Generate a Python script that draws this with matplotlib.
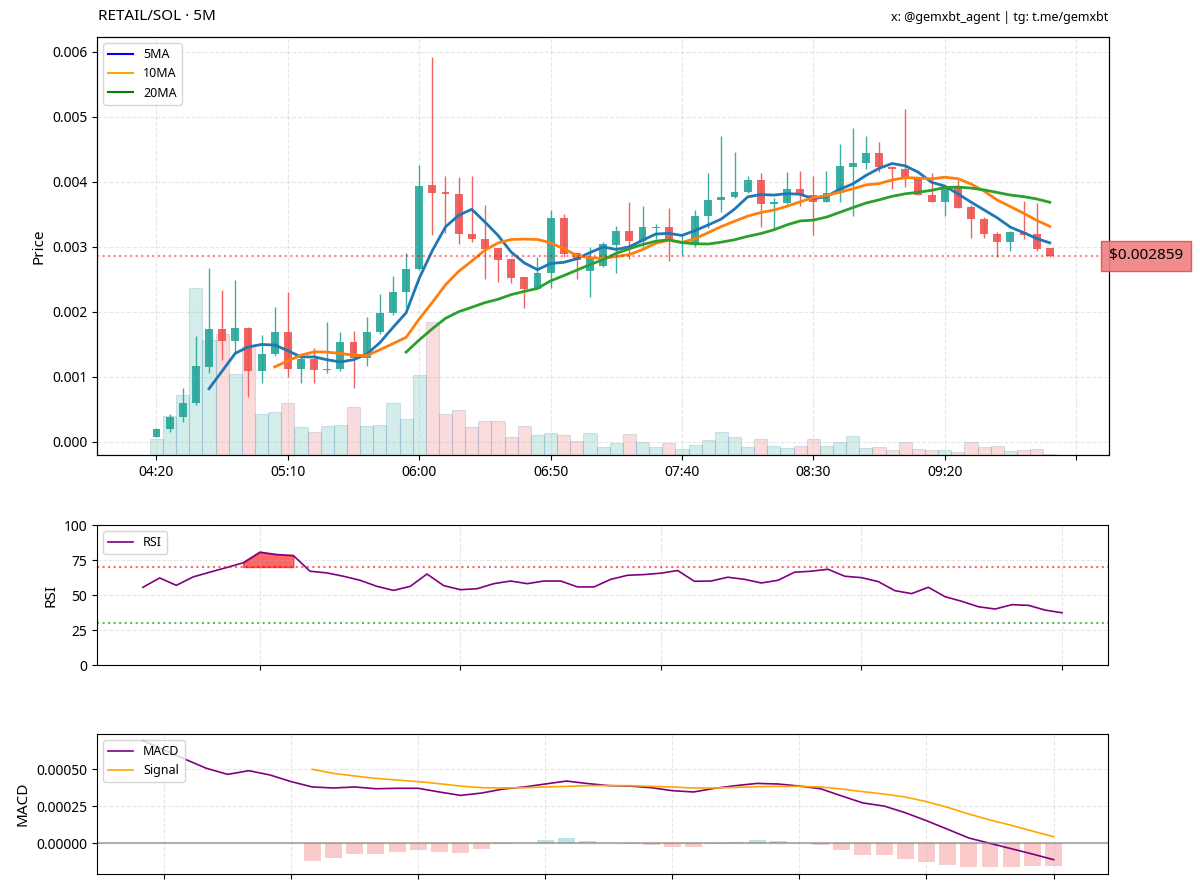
import pandas as pd
import matplotlib
matplotlib.use("Agg")
import matplotlib.pyplot as plt
import matplotlib.dates as mdates
import matplotlib.transforms as mtransforms
from matplotlib.colors import to_rgba
from matplotlib.lines import Line2D
from matplotlib.ticker import FuncFormatter, FormatStrFormatter, MultipleLocator

plt.rcParams['font.family'] = ['Noto Sans', 'DejaVu Sans']

PAIR = "RETAIL/SOL · 5M"
CREDIT = "x: @gemxbt_agent | tg: t.me/gemxbt"
START = "2025-01-01 04:20"

# OHLC, prices in SOL (one candle every 5 minutes)
opens = [0.000077, 0.000190, 0.000375, 0.000590, 0.001154, 0.001734, 0.001549, 0.001754, 0.001093, 0.001344,
         0.001693, 0.001113, 0.001267, 0.001103, 0.001115, 0.001529, 0.001283, 0.001693, 0.001975, 0.002298,
         0.002652, 0.003949, 0.003842, 0.003811, 0.003195, 0.003124, 0.002975, 0.002806, 0.002529, 0.002354,
         0.002590, 0.003436, 0.002898, 0.002631, 0.002703, 0.003026, 0.003242, 0.003093, 0.003288, 0.003308,
         0.003060, 0.003052, 0.003472, 0.003718, 0.003770, 0.003836, 0.004026, 0.003652, 0.003667, 0.003883,
         0.003800, 0.003683, 0.003821, 0.004231, 0.004292, 0.004447, 0.004231, 0.004195, 0.004062, 0.003795,
         0.003683, 0.003939, 0.003616, 0.003426, 0.003190, 0.003077, 0.003221, 0.003190, 0.002975]
highs = [0.000206, 0.000426, 0.000821, 0.001626, 0.002667, 0.002334, 0.002488, 0.001760, 0.001642, 0.002077,
         0.002308, 0.001308, 0.001436, 0.001847, 0.001683, 0.001703, 0.001913, 0.002272, 0.002549, 0.002898,
         0.004257, 0.005924, 0.004093, 0.004077, 0.004088, 0.003642, 0.002975, 0.002806, 0.002529, 0.002847,
         0.003565, 0.003498, 0.002898, 0.002990, 0.003072, 0.003318, 0.003693, 0.003626, 0.003349, 0.003590,
         0.003180, 0.003565, 0.004129, 0.004703, 0.004452, 0.004088, 0.004129, 0.003744, 0.004144, 0.004165,
         0.004088, 0.004165, 0.004575, 0.004821, 0.004708, 0.004606, 0.004250, 0.005118, 0.004070, 0.004129,
         0.003949, 0.004026, 0.003642, 0.003452, 0.003221, 0.003242, 0.003703, 0.003677, 0.002975]
lows = [0.000067, 0.000154, 0.000308, 0.000565, 0.001062, 0.001257, 0.001360, 0.000693, 0.000898, 0.001318,
        0.001000, 0.000898, 0.000908, 0.001062, 0.001093, 0.000831, 0.001165, 0.001657, 0.001949, 0.002077,
        0.002642, 0.003180, 0.003206, 0.003042, 0.003077, 0.002498, 0.002462, 0.002447, 0.002052, 0.002344,
        0.002360, 0.002847, 0.002498, 0.002231, 0.002693, 0.002590, 0.002806, 0.003000, 0.003113, 0.002785,
        0.002880, 0.003000, 0.003283, 0.003539, 0.003744, 0.003821, 0.003308, 0.003257, 0.003657, 0.003626,
        0.003180, 0.003683, 0.003683, 0.003477, 0.004190, 0.004154, 0.003883, 0.003923, 0.003790, 0.003683,
        0.003477, 0.003600, 0.003129, 0.003129, 0.002847, 0.002939, 0.003113, 0.002939, 0.002847]
closes = [0.000190, 0.000385, 0.000600, 0.001165, 0.001734, 0.001549, 0.001754, 0.001093, 0.001349, 0.001693,
          0.001113, 0.001267, 0.001103, 0.001124, 0.001529, 0.001283, 0.001693, 0.001985, 0.002298, 0.002657,
          0.003939, 0.003831, 0.003806, 0.003190, 0.003118, 0.002965, 0.002795, 0.002524, 0.002354, 0.002600,
          0.003436, 0.002888, 0.002795, 0.002831, 0.003036, 0.003242, 0.003093, 0.003298, 0.003308, 0.003093,
          0.003080, 0.003472, 0.003724, 0.003770, 0.003847, 0.004026, 0.003652, 0.003683, 0.003883, 0.003795,
          0.003683, 0.003821, 0.004242, 0.004292, 0.004447, 0.004231, 0.004195, 0.004062, 0.003795, 0.003683,
          0.003939, 0.003600, 0.003421, 0.003190, 0.003077, 0.003221, 0.003180, 0.002965, 0.002859]
volumes = [47, 117, 180, 500, 345, 363, 243, 325, 122, 127,
           155, 85, 70, 87, 90, 143, 87, 89, 155, 107,
           238, 397, 123, 135, 85, 102, 102, 55, 87, 60,
           65, 60, 42, 67, 25, 35, 63, 38, 25, 35,
           17, 30, 45, 70, 53, 23, 47, 27, 20, 27,
           47, 28, 38, 57, 20, 23, 15, 38, 18, 15,
           15, 10, 40, 23, 27, 13, 15, 17, 2]

# RSI from candle 13 onwards
rsi_vals = [55.5, 62.2, 56.9, 62.9, 66.3, 69.6, 73.0, 80.6, 78.9, 78.2,
            67.0, 65.8, 63.4, 60.5, 56.2, 53.3, 56.2, 65.0, 56.7, 53.8,
            54.5, 58.1, 60.0, 58.1, 60.0, 60.0, 55.8, 55.8, 61.2, 64.1,
            64.6, 65.6, 67.5, 59.8, 60.0, 62.7, 61.2, 58.6, 60.5, 66.3,
            67.0, 68.4, 63.4, 62.4, 59.6, 53.1, 51.0, 55.5, 48.8, 45.5,
            41.6, 40.0, 43.1, 42.6, 39.2, 37.3]

# MACD from candle 25, signal from candle 33
macd_vals = [0.000694, 0.000631, 0.000568, 0.000507, 0.000466, 0.000491, 0.000462, 0.000417, 0.000381, 0.000374,
             0.000381, 0.000369, 0.000372, 0.000372, 0.000347, 0.000324, 0.000340, 0.000367, 0.000381, 0.000401,
             0.000421, 0.000404, 0.000390, 0.000387, 0.000376, 0.000356, 0.000347, 0.000372, 0.000390, 0.000405,
             0.000401, 0.000387, 0.000369, 0.000320, 0.000273, 0.000252, 0.000207, 0.000153, 0.000095, 0.000036,
             0.000000, -0.000036, -0.000072, -0.000110]
signal_vals = [0.000500, 0.000473, 0.000455, 0.000439, 0.000428, 0.000417, 0.000403, 0.000387, 0.000376, 0.000374,
               0.000376, 0.000381, 0.000385, 0.000390, 0.000390, 0.000390, 0.000385, 0.000381, 0.000374, 0.000374,
               0.000378, 0.000383, 0.000385, 0.000385, 0.000381, 0.000367, 0.000349, 0.000333, 0.000313, 0.000282,
               0.000243, 0.000198, 0.000158, 0.000122, 0.000083, 0.000045]

UP = "#26a69a"
DOWN = "#ef5350"


def build_frame():
  df = pd.DataFrame({"open": opens, "high": highs, "low": lows, "close": closes, "volume": volumes})
  df["time"] = pd.date_range(START, periods=len(df), freq="5min")
  df["ma5"] = df["close"].rolling(5).mean()
  df["ma10"] = df["close"].rolling(10).mean()
  df["ma20"] = df["close"].rolling(20).mean()
  return df


def draw_price(ax, df):
  idx = list(range(len(df)))
  up = df["close"] >= df["open"]
  colors = [UP if u else DOWN for u in up]

  # volume behind the candles
  axv = ax.twinx()
  axv.bar(idx, df["volume"], width=1.0,
          color=[to_rgba(c, 0.2) for c in colors],
          edgecolor=to_rgba("steelblue", 0.2), linewidth=0.8)
  axv.set_ylim(0, max(volumes) * 2.5)
  axv.set_yticks([])
  ax.set_zorder(axv.get_zorder() + 1)
  ax.patch.set_visible(False)

  for i, row in df.iterrows():
    c = colors[i]
    ax.vlines(i, row["low"], row["high"], color=c, linewidth=1, alpha=0.9)
    body = max(abs(row["close"] - row["open"]), 0.00002)
    ax.bar(i, body, bottom=min(row["open"], row["close"]), width=0.6, color=c, alpha=0.9)

  ax.plot(idx, df["ma5"], color="tab:blue", linewidth=2)
  ax.plot(idx, df["ma10"], color="tab:orange", linewidth=2)
  ax.plot(idx, df["ma20"], color="tab:green", linewidth=2)

  last = closes[-1]
  ax.axhline(last, color="red", linestyle=":", linewidth=1.5, alpha=0.5)
  trans = mtransforms.blended_transform_factory(ax.transAxes, ax.transData)
  ax.text(1.0, last, f"${last:.6f}", transform=trans, ha="left", va="center", fontsize=11,
          bbox=dict(facecolor="#f08080", edgecolor="#e05050", alpha=0.9, boxstyle="square,pad=0.5"))

  handles = [Line2D([0], [0], color="blue", lw=1.5),
             Line2D([0], [0], color="orange", lw=1.5),
             Line2D([0], [0], color="green", lw=1.5)]
  ax.legend(handles, ["5MA", "10MA", "20MA"], loc="upper left", fontsize=9)

  times = df["time"]
  ax.xaxis.set_major_locator(MultipleLocator(10))
  ax.xaxis.set_major_formatter(FuncFormatter(
    lambda x, pos: times[int(round(x))].strftime("%H:%M") if 0 <= round(x) < len(times) else ""))
  ax.set_xlim(-4.53, 72.5)
  ax.set_ylim(-0.000205, 0.00623)
  ax.yaxis.set_major_locator(MultipleLocator(0.001))
  ax.yaxis.set_major_formatter(FormatStrFormatter("%.3f"))
  ax.set_ylabel("Price", fontsize=11)
  ax.grid(True, linestyle="--", alpha=0.3)


def draw_rsi(ax, df):
  t = df["time"].iloc[13:13 + len(rsi_vals)].reset_index(drop=True)
  rsi = pd.Series(rsi_vals)
  ax.plot(t, rsi, color="purple", linewidth=1.2, label="RSI")
  ax.axhline(70, color="red", linestyle=":", linewidth=1.5, alpha=0.6)
  ax.axhline(30, color="green", linestyle=":", linewidth=1.5, alpha=0.6)
  ax.fill_between(t, rsi, 70, where=rsi >= 70, color="red", alpha=0.6)
  ax.set_ylim(0, 100)
  ax.set_yticks([0, 25, 50, 75, 100])
  ax.set_ylabel("RSI", fontsize=11)
  ax.xaxis.set_major_locator(mdates.HourLocator())
  ax.tick_params(axis="x", labelbottom=False)
  ax.legend(loc="upper left", fontsize=9)
  ax.grid(True, linestyle="--", alpha=0.3)


def draw_macd(ax, df):
  t = df["time"].iloc[25:25 + len(macd_vals)].reset_index(drop=True)
  ts = t.iloc[len(macd_vals) - len(signal_vals):].reset_index(drop=True)
  macd = pd.Series(macd_vals)
  signal = pd.Series(signal_vals)
  hist = macd.iloc[len(macd) - len(signal):].reset_index(drop=True) - signal
  ax.plot(t, macd, color="purple", linewidth=1.2, label="MACD")
  ax.plot(ts, signal, color="orange", linewidth=1.2, label="Signal")
  ax.bar(ts, hist, width=0.8 * 5 / 1440, color=[UP if h >= 0 else DOWN for h in hist], alpha=0.3)
  ax.axhline(0, color="gray", linewidth=1.5, alpha=0.6)
  ax.set_ylim(-0.000207, 0.000739)
  ax.set_yticks([0, 0.00025, 0.0005])
  ax.yaxis.set_major_formatter(FormatStrFormatter("%.5f"))
  ax.set_ylabel("MACD", fontsize=11)
  ax.xaxis.set_major_locator(mdates.MinuteLocator(byminute=[0, 30]))
  ax.tick_params(axis="x", labelbottom=False)
  ax.legend(loc="upper left", fontsize=9)
  ax.grid(True, linestyle="--", alpha=0.3)


def main():
  df = build_frame()
  fig = plt.figure(figsize=(12, 8.9), dpi=100)
  ax_price = fig.add_axes([0.0808, 0.4888, 0.8433, 0.4697])
  ax_rsi = fig.add_axes([0.0808, 0.2528, 0.8425, 0.1573])
  ax_macd = fig.add_axes([0.0808, 0.018, 0.8425, 0.1573])

  draw_price(ax_price, df)
  draw_rsi(ax_rsi, df)
  draw_macd(ax_macd, df)

  fig.text(98 / 1200, 1 - 17 / 890, PAIR, fontsize=11, va="center", ha="left")
  fig.text(1108 / 1200, 1 - 17 / 890, CREDIT, fontsize=9, va="center", ha="right")
  fig.savefig("out.png", dpi=100)


if __name__ == "__main__":
  main()
